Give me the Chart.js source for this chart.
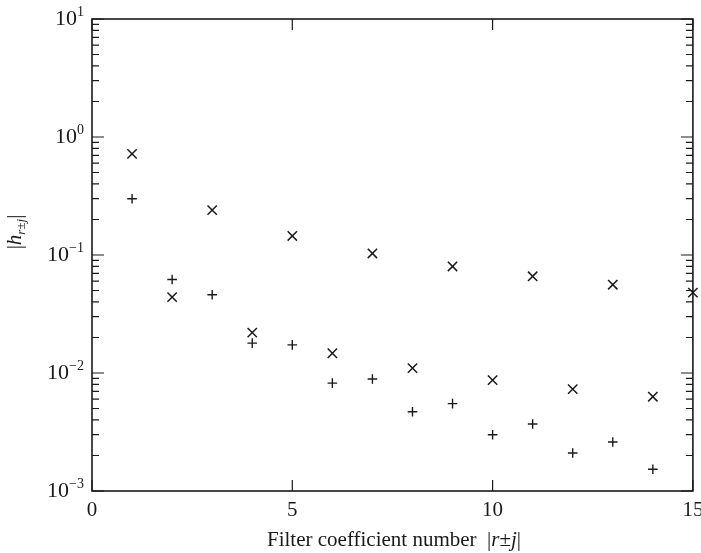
<!DOCTYPE html>
<html>
<head>
<meta charset="utf-8">
<script src="https://cdn.jsdelivr.net/npm/chart.js@4.4.1/dist/chart.umd.min.js"></script>
<style>
  html, body { margin: 0; padding: 0; background: #fff; }
  #wrap { width: 701px; height: 553px; position: relative; }
</style>
</head>
<body>
<div id="wrap"><canvas id="filterChart"></canvas></div>
<script>
// filter coefficient index |r±j|
const crossIndex = [1, 2, 3, 4, 5, 6, 7, 8, 9, 10, 11, 12, 13, 14, 15];
const crossValues = [0.72, 0.044, 0.24, 0.022, 0.145, 0.0147, 0.103, 0.011, 0.080, 0.0087, 0.066, 0.0073, 0.056, 0.0063, 0.048];
const plusIndex = [1, 2, 3, 4, 5, 6, 7, 8, 9, 10, 11, 12, 13, 14];
const plusValues = [0.30, 0.062, 0.046, 0.0179, 0.0173, 0.0082, 0.0089, 0.0047, 0.0055, 0.0030, 0.0037, 0.0021, 0.0026, 0.00153];
const xTicks = [0, 5, 10, 15];
const yExponents = [-3, -2, -1, 0, 1];

const INK = '#1a1a1a';
const SERIF = '"Liberation Serif", "DejaVu Serif", serif';

function drawRuns(ctx, runs, x, y, align) {
  // runs: [{text, size, italic, dy}]
  let total = 0;
  runs.forEach(r => {
    ctx.font = (r.italic ? 'italic ' : '') + r.size + 'px ' + SERIF;
    r.w = ctx.measureText(r.text).width;
    total += r.w;
  });
  let cx = align === 'center' ? x - total / 2 : (align === 'right' ? x - total : x);
  runs.forEach(r => {
    ctx.font = (r.italic ? 'italic ' : '') + r.size + 'px ' + SERIF;
    ctx.textAlign = 'left';
    ctx.fillText(r.text, cx, y + (r.dy || 0));
    cx += r.w;
  });
}

const frame = {
  id: 'frame',
  afterDraw(chart) {
    const { ctx, chartArea: a, scales: { x, y } } = chart;
    ctx.save();
    ctx.strokeStyle = INK;
    ctx.fillStyle = INK;
    ctx.lineWidth = 1.6;
    ctx.strokeRect(a.left, a.top, a.right - a.left, a.bottom - a.top);

    // inward y ticks, both sides
    ctx.lineWidth = 1.2;
    yExponents.forEach(e => {
      const base = Math.pow(10, e);
      for (let m = 1; m <= 9; m++) {
        const v = m * base;
        if (v > 10.0001) break;
        const py = y.getPixelForValue(v);
        const len = m === 1 ? 12 : 7;
        ctx.beginPath();
        ctx.moveTo(a.left, py); ctx.lineTo(a.left + len, py);
        ctx.moveTo(a.right, py); ctx.lineTo(a.right - len, py);
        ctx.stroke();
      }
    });

    // inward x ticks, bottom and top
    xTicks.forEach(v => {
      const px = x.getPixelForValue(v);
      ctx.beginPath();
      ctx.moveTo(px, a.bottom); ctx.lineTo(px, a.bottom - 11);
      ctx.moveTo(px, a.top); ctx.lineTo(px, a.top + 11);
      ctx.stroke();
    });

    // y tick labels 10^e
    ctx.textBaseline = 'middle';
    yExponents.forEach(e => {
      const py = y.getPixelForValue(Math.pow(10, e));
      const exp = e < 0 ? '\u2212' + (-e) : String(e);
      ctx.font = '14px ' + SERIF;
      const ew = ctx.measureText(exp).width;
      ctx.textAlign = 'right';
      ctx.fillText(exp, 84, py - 7);
      ctx.font = '22px ' + SERIF;
      ctx.fillText('10', 84 - ew, py);
    });

    // x tick labels
    ctx.textBaseline = 'top';
    ctx.textAlign = 'center';
    ctx.font = '21px ' + SERIF;
    xTicks.forEach(v => {
      ctx.fillText(String(v), x.getPixelForValue(v), 500);
    });

    // x title
    ctx.textBaseline = 'alphabetic';
    drawRuns(ctx, [
      { text: 'Filter coefficient number  |', size: 21 },
      { text: 'r', size: 21, italic: true },
      { text: '\u00b1', size: 21 },
      { text: 'j', size: 21, italic: true },
      { text: '|', size: 21 }
    ], 394, 546, 'center');

    // y title, rotated
    ctx.translate(21, 232);
    ctx.rotate(-Math.PI / 2);
    drawRuns(ctx, [
      { text: '|', size: 21 },
      { text: 'h', size: 21, italic: true },
      { text: 'r', size: 13, italic: true, dy: 4 },
      { text: '\u00b1', size: 13, dy: 4 },
      { text: 'j', size: 13, italic: true, dy: 4 },
      { text: '|', size: 21 }
    ], 0, 0, 'center');
    ctx.restore();
  }
};

new Chart(document.getElementById('filterChart').getContext('2d'), {
  type: 'scatter',
  data: {
    datasets: [
      {
        label: 'cross',
        data: crossIndex.map((v, i) => ({ x: v, y: crossValues[i] })),
        pointStyle: 'crossRot',
        pointRadius: 6.6,
        borderColor: INK,
        borderWidth: 1.5,
        clip: false
      },
      {
        label: 'plus',
        data: plusIndex.map((v, i) => ({ x: v, y: plusValues[i] })),
        pointStyle: 'cross',
        pointRadius: 4.8,
        borderColor: INK,
        borderWidth: 1.4,
        clip: false
      }
    ]
  },
  options: {
    responsive: true,
    maintainAspectRatio: false,
    animation: false,
    layout: { padding: { left: 92, right: 8, top: 19, bottom: 62 } },
    plugins: { legend: { display: false }, tooltip: { enabled: false } },
    scales: {
      x: {
        type: 'linear', min: 0, max: 15,
        grid: { display: false, drawTicks: false },
        border: { display: false },
        ticks: { display: false }
      },
      y: {
        type: 'logarithmic', min: 0.001, max: 10,
        grid: { display: false, drawTicks: false },
        border: { display: false },
        ticks: { display: false }
      }
    }
  },
  plugins: [frame]
});
</script>
</body>
</html>
